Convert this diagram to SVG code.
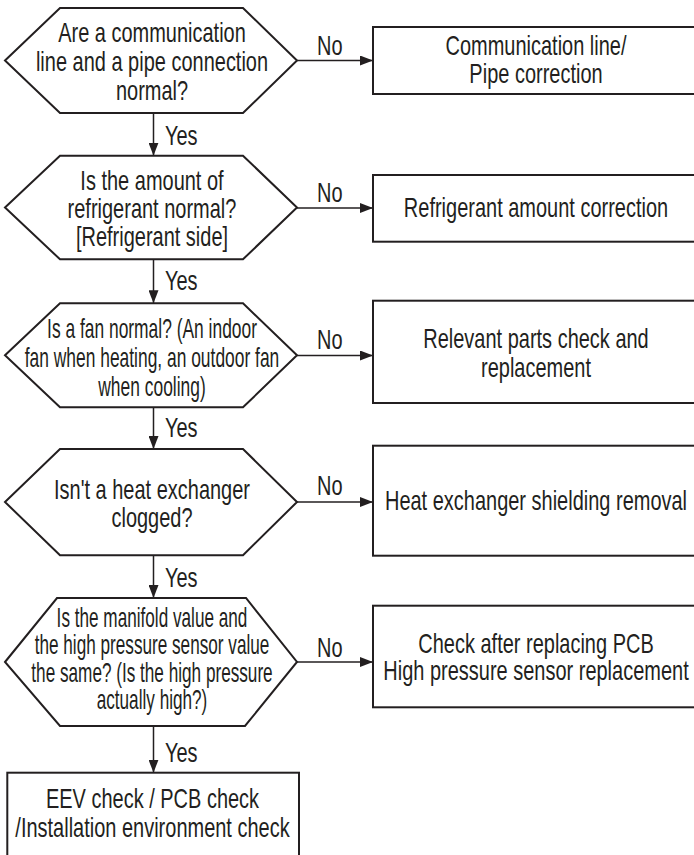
<svg xmlns="http://www.w3.org/2000/svg" width="694" height="855" viewBox="0 0 694 855">
<style>
.bg{fill:#ffffff}
.shape{fill:#ffffff;stroke:#231f20;stroke-width:2}
.conn{fill:none;stroke:#231f20;stroke-width:1.5}
.t{font-family:"Liberation Sans",Arial,Helvetica,sans-serif;font-size:27px;fill:#231f20;text-anchor:middle}
.lbl{font-family:"Liberation Sans",Arial,Helvetica,sans-serif;font-size:27px;fill:#231f20}
</style>
<defs>
<marker id="ah" viewBox="0 0 13 10" refX="13" refY="5" markerWidth="13" markerHeight="10" orient="auto" markerUnits="userSpaceOnUse">
<path d="M0,0 L13,5 L0,10 Z" fill="#231f20"/>
</marker>
</defs>
<rect class="bg" x="0" y="0" width="694" height="855"/>

<g id="connectors">
<line class="conn" x1="153.5" y1="113" x2="153.5" y2="155.7" marker-end="url(#ah)"/>
<line class="conn" x1="153.5" y1="259.3" x2="153.5" y2="303.3" marker-end="url(#ah)"/>
<line class="conn" x1="153.5" y1="407.3" x2="153.5" y2="449" marker-end="url(#ah)"/>
<line class="conn" x1="153.5" y1="555.3" x2="153.5" y2="598" marker-end="url(#ah)"/>
<line class="conn" x1="153.5" y1="726" x2="153.5" y2="772.7" marker-end="url(#ah)"/>
<line class="conn" x1="297" y1="60.5" x2="373" y2="60.5" marker-end="url(#ah)"/>
<line class="conn" x1="297" y1="208" x2="373" y2="208" marker-end="url(#ah)"/>
<line class="conn" x1="297" y1="355.5" x2="373" y2="355.5" marker-end="url(#ah)"/>
<line class="conn" x1="297" y1="502" x2="373" y2="502" marker-end="url(#ah)"/>
<line class="conn" x1="297" y1="662" x2="373" y2="662" marker-end="url(#ah)"/>
<text class="lbl" transform="translate(165 145) scale(0.74 1)">Yes</text>
<text class="lbl" transform="translate(165 290) scale(0.74 1)">Yes</text>
<text class="lbl" transform="translate(165 436.7) scale(0.74 1)">Yes</text>
<text class="lbl" transform="translate(165 586.7) scale(0.74 1)">Yes</text>
<text class="lbl" transform="translate(165 761.7) scale(0.74 1)">Yes</text>
<text class="lbl" transform="translate(317 55) scale(0.74 1)">No</text>
<text class="lbl" transform="translate(317 201.7) scale(0.74 1)">No</text>
<text class="lbl" transform="translate(317 349) scale(0.74 1)">No</text>
<text class="lbl" transform="translate(317 495) scale(0.74 1)">No</text>
<text class="lbl" transform="translate(317 656.7) scale(0.74 1)">No</text>
</g>

<g id="q1">
<polygon class="shape" points="5,60.5 60,8 243,8 297,60.5 243,113 60,113"/>
<text class="t" transform="translate(152 41.7) scale(0.74 1)"><tspan x="0" y="0">Are a communication</tspan><tspan x="0" y="29.2">line and a pipe connection</tspan><tspan x="0" y="58.4">normal?</tspan></text>
</g>

<g id="q2">
<polygon class="shape" points="5,207.5 60,155.7 243,155.7 297,207.5 243,259.3 60,259.3"/>
<text class="t" transform="translate(152 190) scale(0.74 1)"><tspan x="0" y="0">Is the amount of</tspan><tspan x="0" y="28">refrigerant normal?</tspan><tspan x="0" y="56">[Refrigerant side]</tspan></text>
</g>

<g id="q3">
<polygon class="shape" points="5,355.3 60,303.3 243,303.3 297,355.3 243,407.3 60,407.3"/>
<text class="t" transform="translate(152 337.7) scale(0.645 1)"><tspan x="0" y="0">Is a fan normal? (An indoor</tspan><tspan x="0" y="29.2">fan when heating, an outdoor fan</tspan><tspan x="0" y="58.4">when cooling)</tspan></text>
</g>

<g id="q4">
<polygon class="shape" points="5,502 60,449 243,449 297,502 243,555.3 60,555.3"/>
<text class="t" transform="translate(152 499.3) scale(0.74 1)"><tspan x="0" y="0">Isn't a heat exchanger</tspan><tspan x="0" y="28">clogged?</tspan></text>
</g>

<g id="q5">
<polygon class="shape" points="5,662 57,598 246,598 297,662 245,726 60,726"/>
<text class="t" transform="translate(152 626.7) scale(0.636 1)"><tspan x="0" y="0">Is the manifold value and</tspan><tspan x="0" y="27.8">the high pressure sensor value</tspan><tspan x="0" y="55.3">the same? (Is the high pressure</tspan><tspan x="0" y="82">actually high?)</tspan></text>
</g>

<g id="a1">
<rect class="shape" x="373" y="27" width="335" height="67"/>
<text class="t" transform="translate(536 55) scale(0.74 1)"><tspan x="0" y="0">Communication line/</tspan><tspan x="0" y="27.7">Pipe correction</tspan></text>
</g>

<g id="a2">
<rect class="shape" x="373" y="175" width="335" height="66.7"/>
<text class="t" transform="translate(536 217) scale(0.74 1)">Refrigerant amount correction</text>
</g>

<g id="a3">
<rect class="shape" x="373" y="300.7" width="335" height="102.3"/>
<text class="t" transform="translate(536 348.3) scale(0.74 1)"><tspan x="0" y="0">Relevant parts check and</tspan><tspan x="0" y="28.4">replacement</tspan></text>
</g>

<g id="a4">
<rect class="shape" x="373" y="445.7" width="335" height="110"/>
<text class="t" transform="translate(536 510) scale(0.74 1)">Heat exchanger shielding removal</text>
</g>

<g id="a5">
<rect class="shape" x="373" y="605.7" width="335" height="101.6"/>
<text class="t" transform="translate(536 653.3) scale(0.74 1)"><tspan x="0" y="0">Check after replacing PCB</tspan><tspan x="0" y="26.7">High pressure sensor replacement</tspan></text>
</g>

<g id="end">
<rect class="shape" x="7.3" y="772.7" width="291.7" height="100"/>
<text class="t" transform="translate(152.5 808.3) scale(0.74 1)"><tspan x="0" y="0">EEV check / PCB check</tspan><tspan x="0" y="28.4">/Installation environment check</tspan></text>
</g>
</svg>
